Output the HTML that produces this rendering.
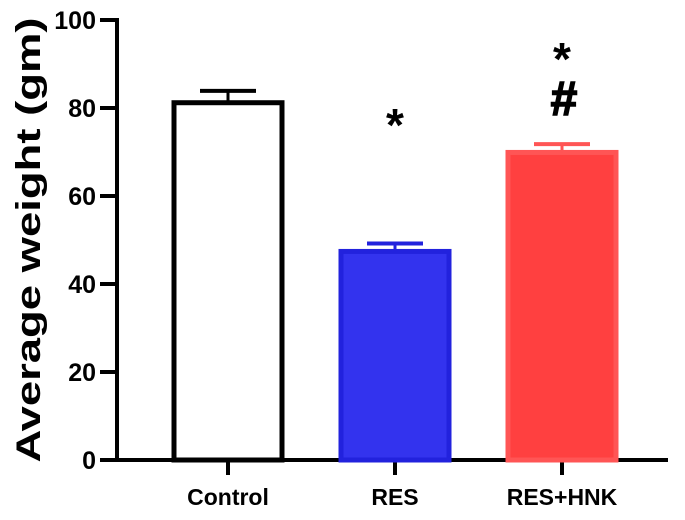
<!DOCTYPE html>
<html><head><meta charset="utf-8"><style>
body{margin:0;background:#fff}
svg{display:block;font-family:"Liberation Sans",Arial,sans-serif;font-weight:bold}
</style></head><body>
<svg width="685" height="520">
<g id="axes"></g><g id="bars"></g>
<text x="40" y="240" transform="rotate(-90 40 240)" text-anchor="middle" font-size="34" textLength="445" lengthAdjust="spacingAndGlyphs">Average weight (gm)</text>
</svg>
<script>
const categories=["Control","RES","RES+HNK"];
const values=[81.2,47.4,69.9];
const errors=[2.7,1.8,1.9];
const yTicks=[0,20,40,60,80,100];
const marks=[[],["*"],["*","#"]];
const markLevels=[[],[78],[93,82]];
const fills=["#ffffff","#3333ee","#ff4040"];
const strokes=["#000000","#2222dd","#ff5555"];
const ns="http://www.w3.org/2000/svg";
const y=v=>460-v*4.4;
const xc=i=>228+i*167;
const bw=108;
function mk(t,a,p){const e=document.createElementNS(ns,t);for(const k in a)e.setAttribute(k,a[k]);p.appendChild(e);return e;}
const ax=document.getElementById('axes'),bg=document.getElementById('bars');
let l=mk('line',{x1:117,y1:y(100)-2,x2:117,y2:462,stroke:'#000','stroke-width':4},ax);


l=mk('line',{x1:115,y1:460,x2:668,y2:460,stroke:'#000','stroke-width':4},ax);


yTicks.forEach(t=>{
 mk('line',{x1:100,y1:y(t),x2:117,y2:y(t),stroke:'#000','stroke-width':4},ax);
 const tx=mk('text',{x:96,y:y(t)+9,'text-anchor':'end','font-size':25},ax);tx.textContent=t;
 
 
});
categories.forEach((c,i)=>{
 mk('line',{x1:xc(i),y1:460,x2:xc(i),y2:475,stroke:'#000','stroke-width':4},ax);
 const tx=mk('text',{x:xc(i),y:505,'text-anchor':'middle','font-size':23},ax);tx.textContent=c;
 
 
 const r=mk('rect',{x:xc(i)-bw/2,y:y(values[i]),width:bw,height:460-y(values[i]),fill:fills[i],stroke:strokes[i],'stroke-width':5},bg);
 
 
 const top=y(values[i]+errors[i]);
 mk('line',{x1:xc(i),y1:top,x2:xc(i),y2:y(values[i]),stroke:strokes[i],'stroke-width':3},bg);
 const cap=mk('line',{x1:xc(i)-28,y1:top,x2:xc(i)+28,y2:top,stroke:strokes[i],'stroke-width':4},bg);
 
 
 marks[i].forEach((m,j)=>{
  const cy=y(markLevels[i][j]);
  const s=mk('text',{x:xc(i)+(m=="#"?2:0),y:m=="*"?cy+24:cy+16,'text-anchor':'middle','font-size':m=="*"?46:48,stroke:'#000','stroke-width':m=="#"?1.5:0},bg);s.textContent=m;
  
  
 });
});
</script>
</body></html>
